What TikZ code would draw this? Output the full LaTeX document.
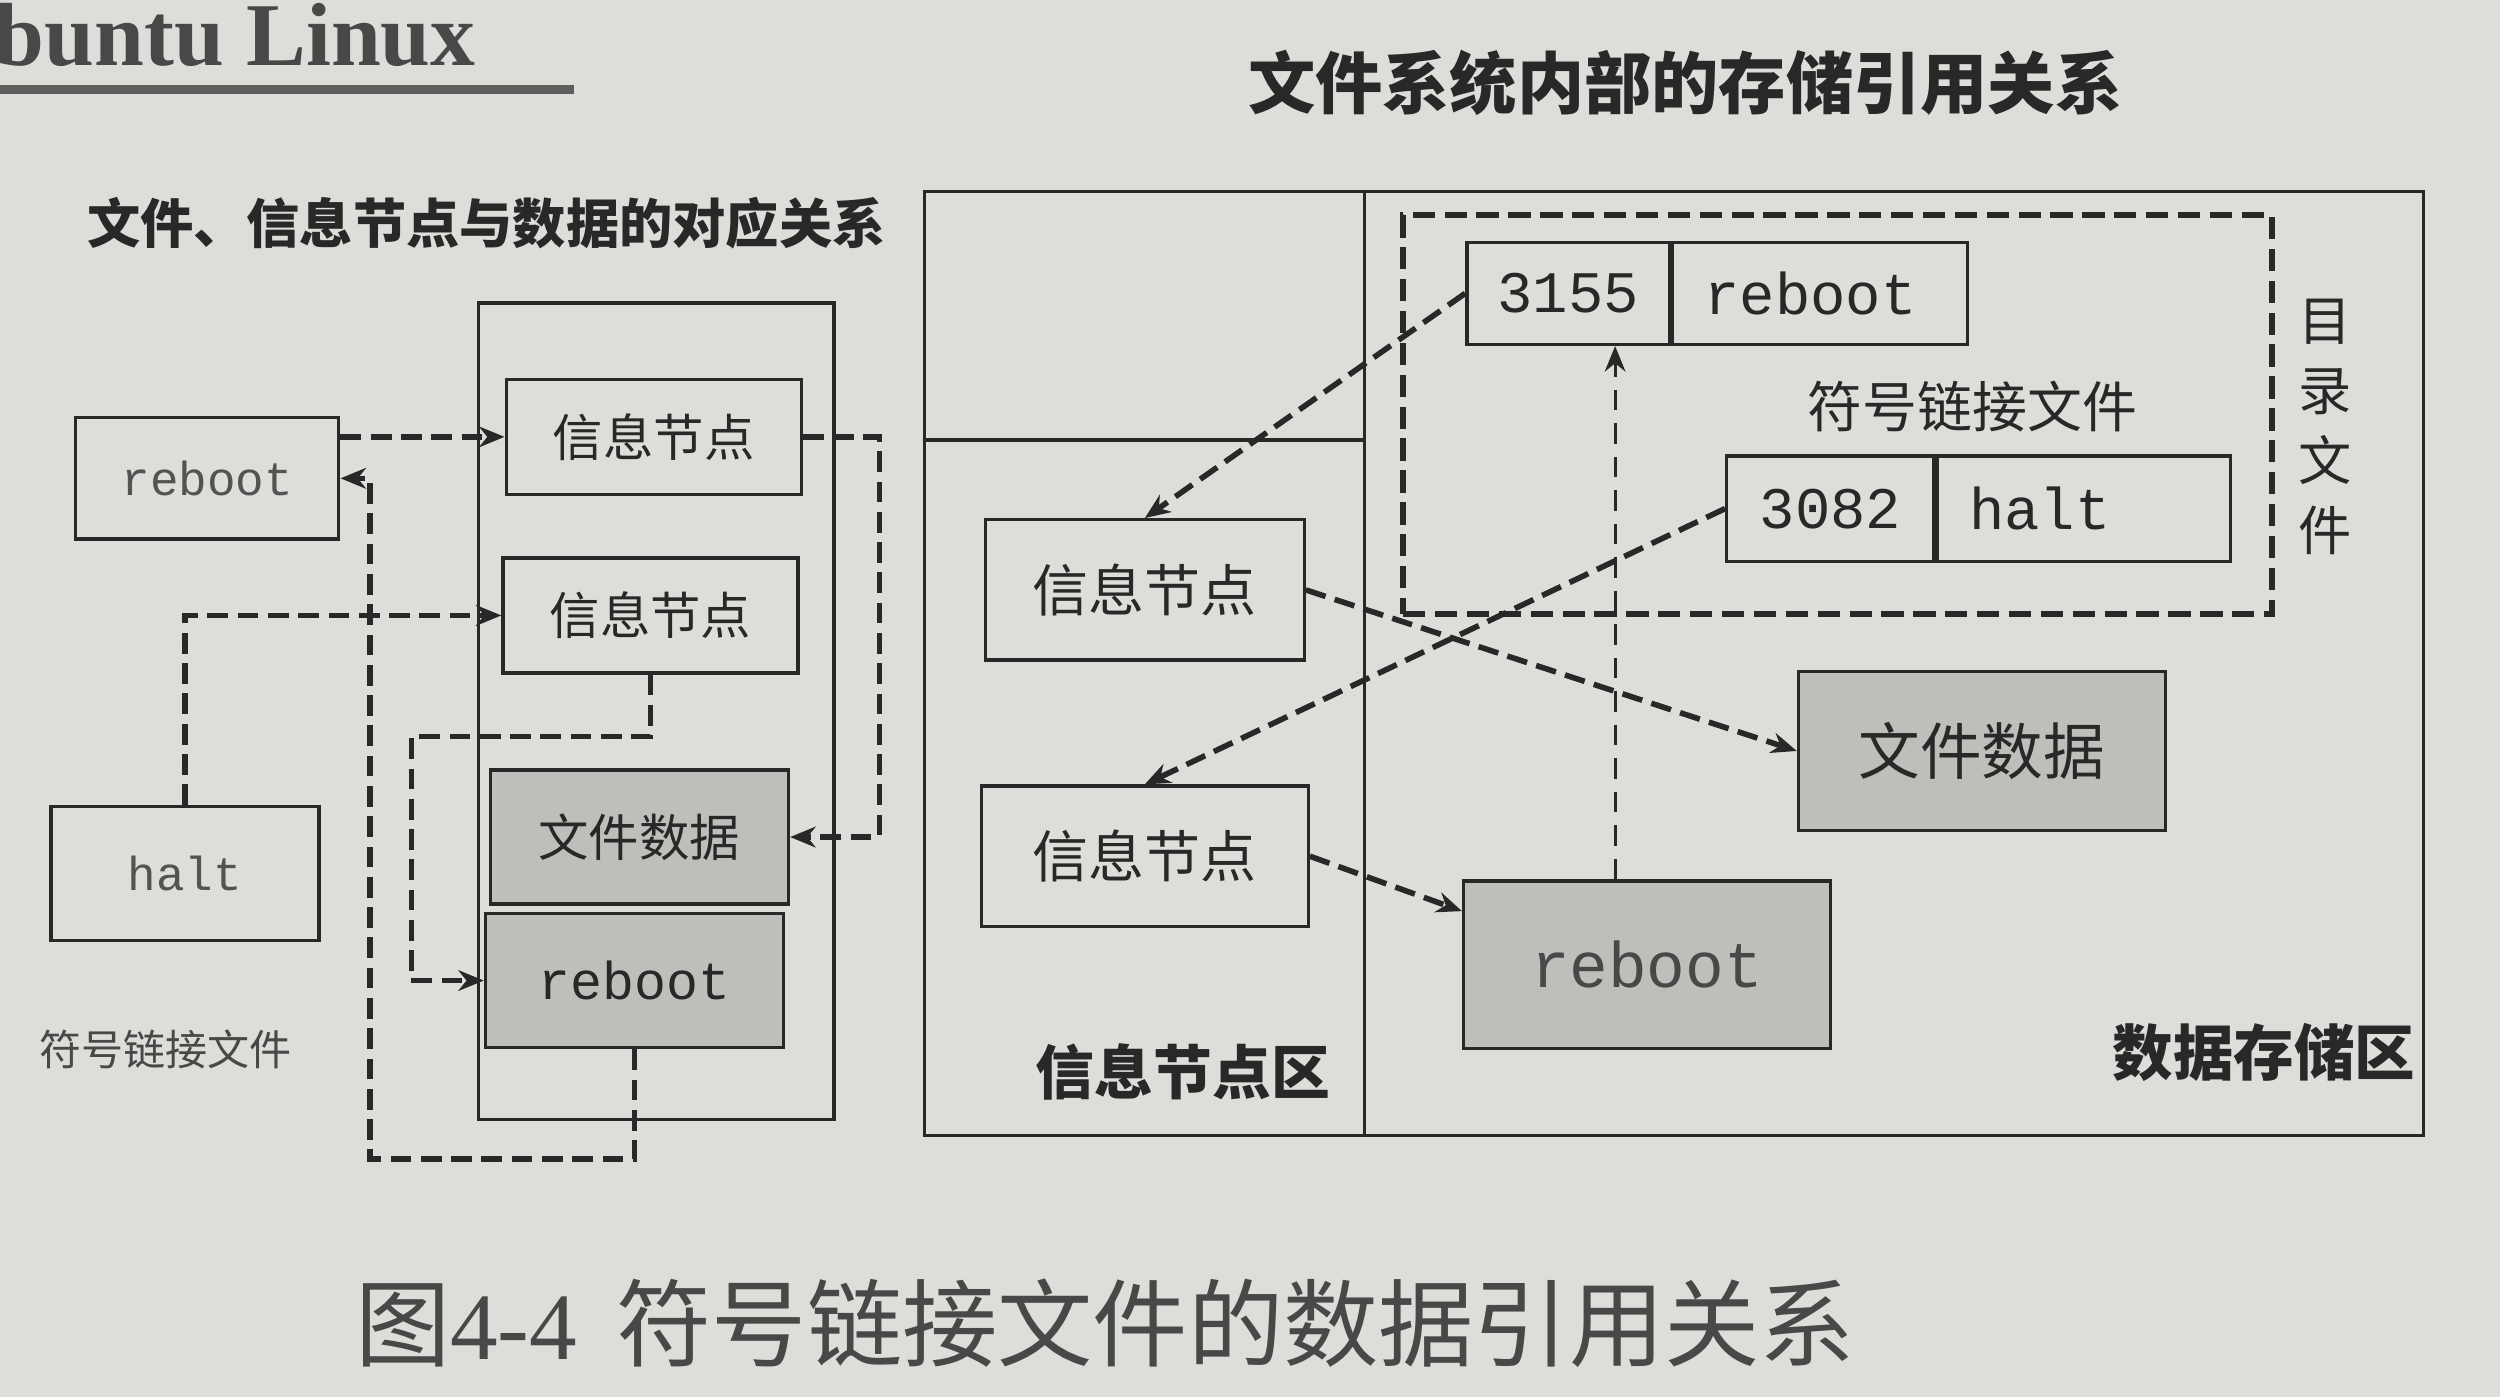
\documentclass[tikz,border=0pt]{standalone}
\usepackage{fontspec}
\setmainfont{Noto Sans CJK SC}
\setmonofont{Liberation Mono}
\newfontfamily\hdrfont{Liberation Serif}
\usetikzlibrary{arrows.meta,calc}
\definecolor{paper}{RGB}{221,221,217}
\definecolor{ink}{RGB}{40,40,40}
\definecolor{shade}{RGB}{190,190,187}
\tikzset{
  cellbox/.style={draw=ink,line width=0.6pt,inner sep=0pt,text=ink},
  shadebox/.style={cellbox,fill=shade},
  ttf/.style={font=\ttfamily\fontsize{#1}{#1}\selectfont},
  cjk/.style={font=\fontsize{#1}{#1}\selectfont},
  cjkb/.style={font=\bfseries\fontsize{#1}{#1}\selectfont},
  dlink/.style={draw=ink,line width=1pt,dash pattern=on 1.3mm off 0.6mm,
    -{Stealth[length=1.6mm,width=1.3mm]}},
  tlink/.style={draw=ink,line width=0.55pt,dash pattern=on 1.3mm off 0.8mm,
    -{Stealth[length=1.6mm,width=1.3mm]}},
  plainline/.style={draw=ink,line width=0.6pt}
}
\begin{document}
\begin{tikzpicture}[x=0.1mm,y=-0.1mm]
\fill[paper] (0,0) rectangle (1568,876);
\useasboundingbox (0,0) rectangle (1568,876);

% page header fragment
\node[anchor=west,inner sep=0pt,text=ink!85,font=\hdrfont\bfseries\fontsize{16}{16}\selectfont] (hdr) at (-4,22) {buntu Linux};
\draw[ink!75,line width=1.6pt] (0,56) -- (360,56);

% titles
\node[cjkb=9.5,text=ink] (ltitle) at (305,140) {文件、信息节点与数据的对应关系};
\node[cjkb=12,text=ink] (rtitle) at (1057,52) {文件系统内部的存储引用关系};

% ---------- left part ----------
\node[cellbox,minimum width=16.5mm,minimum height=7.6mm,ttf=8.5,text=ink!80] (lreboot) at (130,300) {reboot};
\node[cellbox,minimum width=16.8mm,minimum height=8.4mm,ttf=8.5,text=ink!80] (lhalt) at (116,548) {halt};
\node[cjk=7.5,text=ink!85] (lsym) at (104,658) {符号链接文件};

\node[cellbox,minimum width=22.3mm,minimum height=51.2mm] (lcont) at (411.5,446) {};
\node[cellbox,minimum width=18.5mm,minimum height=7.2mm,cjk=9] (lin1) at (410,274) {信息节点};
\node[cellbox,minimum width=18.5mm,minimum height=7.2mm,cjk=9] (lin2) at (408,386) {信息节点};
\node[shadebox,minimum width=18.7mm,minimum height=8.4mm,cjk=9] (ldata) at (401,525) {文件数据};
\node[shadebox,minimum width=18.7mm,minimum height=8.4mm,ttf=9.5] (lrb) at (398,615) {reboot};

\draw[dlink] (lreboot.east |- lin1.west) -- (lin1.west);
\draw[dlink] (lin1.east) -- ++(48,0) |- (ldata.east);
\draw[dlink] (lhalt.north) |- (lin2.west);
\draw[dlink] (lin2.south) |- (258,462) |- (lrb.west);
\draw[dlink] (lrb.south) |- (232,727) |- (lreboot.east);

% ---------- right part ----------
\node[cellbox,minimum width=94mm,minimum height=59.2mm] (rcont) at (1050,416) {};
\draw[plainline] (856,120) -- (856,712);
\draw[plainline] (580,276) -- (856,276);
\node[draw=ink,line width=1.1pt,dash pattern=on 1.4mm off 0.6mm,minimum width=54.5mm,minimum height=25mm,inner sep=0pt] (dir) at (1152.5,260) {};

\node[cellbox,minimum width=12.7mm,minimum height=6.4mm,ttf=10.5] (t1a) at (983.5,184) {3155};
\node[cellbox,minimum width=18.5mm,minimum height=6.4mm,text width=14.5mm,inner xsep=2mm,align=left,anchor=west,ttf=10.5] (t1b) at (t1a.east) {reboot};
\node[cjk=9.8,text=ink] (rsym) at (1237,255) {符号链接文件};
\node[cellbox,minimum width=13mm,minimum height=6.6mm,ttf=10.5] (t2a) at (1148,319) {3082};
\node[cellbox,minimum width=18.4mm,minimum height=6.6mm,text width=14.4mm,inner xsep=2mm,align=left,anchor=west,ttf=10.5] (t2b) at (t2a.east) {halt};
\node[text=ink,align=center,inner sep=0pt,font=\fontsize{9.5}{12.5}\selectfont] (dirlbl) at (1458,268) {目\\录\\文\\件};

\node[cellbox,minimum width=20mm,minimum height=8.8mm,cjk=10] (rin1) at (718,370) {信息节点};
\node[cellbox,minimum width=20.5mm,minimum height=8.8mm,cjk=10] (rin2) at (718,537) {信息节点};
\node[shadebox,minimum width=23mm,minimum height=10mm,cjk=11] (rdata) at (1243,471) {文件数据};
\node[shadebox,minimum width=23mm,minimum height=10.5mm,ttf=11.5,text=ink!85] (rrb) at (1033,605) {reboot};

\node[cjkb=10.5,text=ink] (rlblA) at (742,672) {信息节点区};
\node[cjkb=10.8,text=ink] (rlblB) at (1420,660) {数据存储区};

\draw[dlink] (t1a.west) -- (rin1.north);
\draw[dlink] (t2a.west) -- (rin2.north);
\draw[dlink] (rin1.east) -- (rdata.west);
\draw[dlink] (rin2.east) -- ([yshift=-2mm]rrb.north west);
\coordinate (vup) at ([xshift=-2mm]rrb.north);
\draw[tlink] (vup) -- (vup |- t1a.south);

% caption
\node[anchor=west,inner sep=0pt,text=ink!85,font=\fontsize{17}{17}\selectfont] (cap) at (222,830) {图{\hdrfont 4-4}\hspace{7pt}符号链接文件的数据引用关系};
\end{tikzpicture}
\end{document}
